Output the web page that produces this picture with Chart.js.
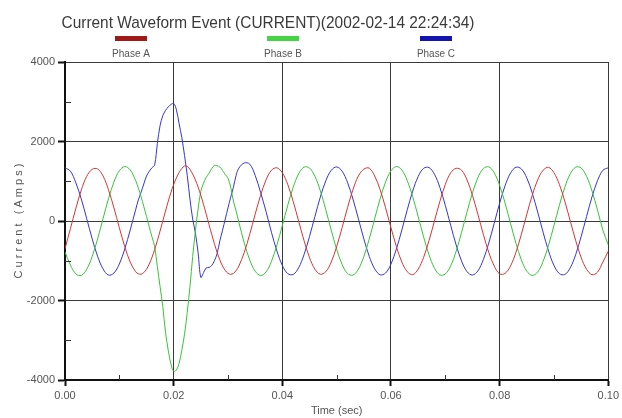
<!DOCTYPE html>
<html><head><meta charset="utf-8">
<script src="https://cdn.jsdelivr.net/npm/chart.js@4/dist/chart.umd.min.js"></script>
<style>html,body{margin:0;padding:0;background:#fff}canvas{display:block}</style>
</head><body>
<canvas id="c" width="622" height="418"></canvas>
<script>
const titleText = 'Current Waveform Event (CURRENT)(2002-02-14 22:24:34)';
const seriesNames = ['Phase A', 'Phase B', 'Phase C'];
const xTickValues = [0, 0.02, 0.04, 0.06, 0.08, 0.10];
const yTickValues = [-4000, -2000, 0, 2000, 4000];
const xMinorTicks = [0.01, 0.03, 0.05, 0.07, 0.09];
const yMinorTicks = [-3000, -1000, 1000, 3000];

const timeSec = [
0,0.001,0.002,0.003,0.004,0.005,0.006,0.007,0.008,0.009,0.010,0.011,0.012,
0.013,0.0135,0.014,0.0145,0.015,0.0155,0.016,0.0165,0.017,0.0175,0.018,0.0185,0.019,0.0195,0.020,0.0205,
0.021,0.0215,0.022,0.0225,0.023,0.0235,0.024,0.0245,0.025,0.0255,0.026,0.0265,0.027,0.0275,0.028,0.0285,
0.029,0.0295,0.030,0.0305,0.031,0.0315,0.032,
0.033,0.034,0.035,0.036,0.037,0.038,0.039,0.040,0.041,0.042,0.043,0.044,0.045,0.046,0.047,0.048,0.049,
0.050,0.051,0.052,0.053,0.054,0.055,0.056,0.057,0.058,0.059,0.060,0.061,0.062,0.063,0.064,0.065,0.066,
0.067,0.068,0.069,0.070,0.071,0.072,0.073,0.074,0.075,0.076,0.077,0.078,0.079,0.080,0.081,0.082,0.083,
0.084,0.085,0.086,0.087,0.088,0.089,0.090,0.091,0.092,0.093,0.094,0.095,0.096,0.097,0.098,0.099,0.100
];

const phaseA = [
-700,-190,320,780,1125,1300,1310,1133,789,334,-168,-646,-1034,
-1276,-1329,-1339,-1298,-1214,-1084,-918,-718,-494,-251,0,251,494,718,918,1084,
1220,1320,1385,1375,1300,1180,1034,854,646,414,168,-84,-334,-571,-789,-977,
-1133,-1246,-1318,-1340,-1318,-1246,-1133,
-789,-334,168,646,1034,1276,1339,1214,918,494,0,-494,-918,-1214,-1339,-1276,-1034,
-646,-168,334,789,1133,1305,1330,1133,789,334,-168,-646,-1034,-1276,-1350,-1214,-918,
-494,0,494,918,1214,1325,1276,1034,646,168,-334,-789,-1133,-1330,-1318,-1133,-789,
-334,168,646,1034,1276,1350,1214,918,494,0,-494,-918,-1214,-1350,-1290,-1034,-760
];

const phaseB = [
-780,-1110,-1330,-1370,-1214,-895,-451,57,557,979,1263,1370,1284,
1018,828,609,368,115,-143,-396,-640,-1150,-1650,-2150,-2800,-3250,-3600,-3780,-3750,
-3580,-3250,-2850,-2300,-1650,-900,-250,300,750,950,1100,1200,1320,1400,1390,1360,
1270,1170,1080,850,500,250,-30,
-557,-979,-1263,-1370,-1284,-1018,-609,-115,396,851,1186,1355,1334,1125,758,285,-229,
-710,-1091,-1320,-1362,-1214,-895,-451,57,557,979,1263,1370,1284,1018,609,115,-396,
-851,-1186,-1355,-1334,-1125,-758,-285,229,710,1091,1320,1362,1214,895,451,-57,-557,
-979,-1263,-1370,-1284,-1018,-609,-115,396,851,1186,1355,1334,1125,758,285,-229,-600
];

const phaseC = [
1340,1254,960,553,57,-447,-889,-1205,-1360,-1310,-1083,-704,-227,
283,530,720,930,1130,1250,1340,1410,1950,2400,2650,2780,2870,2930,2960,2800,
2450,2100,1650,1150,550,50,-300,-800,-1420,-1300,-1180,-1170,-1120,-1000,-820,-500,
-230,50,330,600,850,1150,1330,
1460,1430,1150,720,240,-283,-753,-1117,-1324,-1345,-1178,-845,-393,114,605,1011,1275,
1360,1254,972,553,57,-447,-889,-1205,-1353,-1310,-1083,-704,-227,283,753,1117,1324,
1345,1178,845,393,-114,-605,-1011,-1275,-1360,-1254,-972,-553,-57,447,889,1205,1353,
1310,1083,704,227,-283,-753,-1117,-1324,-1345,-1178,-845,-393,114,605,1011,1275,1340
];

const lineColors = ['#d63434', '#36c436', '#3434d6'];
const keyColors = ['#a01818', '#44d444', '#1414b0'];
const keyCenters = [131, 283, 436];

Chart.defaults.font.family = '"Liberation Sans", Arial, sans-serif';

function narrowText(ctx, text, x, y, font, width) {
  ctx.save();
  ctx.font = font;
  ctx.textAlign = 'center';
  ctx.textBaseline = 'middle';
  const w = ctx.measureText(text).width;
  ctx.translate(x, y);
  ctx.scale(width / w, 1);
  ctx.fillText(text, 0, 0);
  ctx.restore();
}

const overlay = {
  id: 'overlay',
  afterDraw(chart) {
    const ctx = chart.ctx, xs = chart.scales.x, ys = chart.scales.y;
    ctx.save();
    ctx.strokeStyle = '#333';
    ctx.lineWidth = 1;
    xMinorTicks.forEach(v => {
      const px = Math.round(xs.getPixelForValue(v)) + 0.5;
      ctx.beginPath(); ctx.moveTo(px, ys.bottom); ctx.lineTo(px, ys.bottom - 5); ctx.stroke();
    });
    yMinorTicks.forEach(v => {
      const py = Math.round(ys.getPixelForValue(v)) + 0.5;
      ctx.beginPath(); ctx.moveTo(xs.left, py); ctx.lineTo(xs.left + 6, py); ctx.stroke();
    });
    ctx.fillStyle = '#3a3a3a';
    narrowText(ctx, titleText, 268, 23, '17px "Liberation Sans", sans-serif', 413);
    chart.data.datasets.forEach((ds, i) => {
      const cx = keyCenters[i];
      ctx.fillStyle = keyColors[i];
      ctx.fillRect(cx - 16, 36, 32, 5);
      ctx.fillStyle = '#555';
      narrowText(ctx, ds.label, cx, 54, '11px "Liberation Sans", sans-serif', 38);
    });
    ctx.restore();
  }
};

const datasets = [phaseA, phaseB, phaseC].map((vals, i) => ({
  label: seriesNames[i],
  data: vals.map((v, j) => ({ x: timeSec[j], y: v })),
  borderColor: lineColors[i],
  borderWidth: 1,
  pointRadius: 0,
  tension: 0.35,
  fill: false
}));

new Chart(document.getElementById('c'), {
  type: 'line',
  data: { datasets },
  options: {
    responsive: false,
    animation: false,
    devicePixelRatio: 1,
    layout: { padding: { top: 62, right: 11, left: 0, bottom: 0 } },
    plugins: { legend: { display: false }, title: { display: false }, tooltip: { enabled: false } },
    scales: {
      x: {
        type: 'linear', min: 0, max: 0.1,
        afterBuildTicks: s => { s.ticks = xTickValues.map(v => ({ value: v })); },
        afterFit: s => { s.height = 38; },
        ticks: { callback: v => Number(v).toFixed(2), color: '#555', font: { size: 11 }, padding: 3, maxRotation: 0, autoSkip: false },
        grid: { color: '#3a3a3a', lineWidth: 1, tickLength: 6, tickColor: '#111', tickWidth: 2 },
        border: { display: true, color: '#111', width: 2 },
        title: { display: true, text: 'Time (sec)', color: '#555', font: { size: 11 }, padding: { top: 0, bottom: 0 } }
      },
      y: {
        min: -4000, max: 4000,
        afterBuildTicks: s => { s.ticks = yTickValues.map(v => ({ value: v })); },
        afterFit: s => { s.width = 65; },
        ticks: { callback: v => String(v), color: '#555', font: { size: 11 }, padding: 3 },
        grid: { color: '#3a3a3a', lineWidth: 1, tickLength: 7, tickColor: '#111', tickWidth: 2 },
        border: { display: true, color: '#111', width: 2 },
        title: { display: true, text: 'C u r r e n t   ( A m p s )', color: '#555', font: { size: 11 }, padding: { top: 12, bottom: 0 } }
      }
    }
  },
  plugins: [overlay]
});
</script>
</body></html>
